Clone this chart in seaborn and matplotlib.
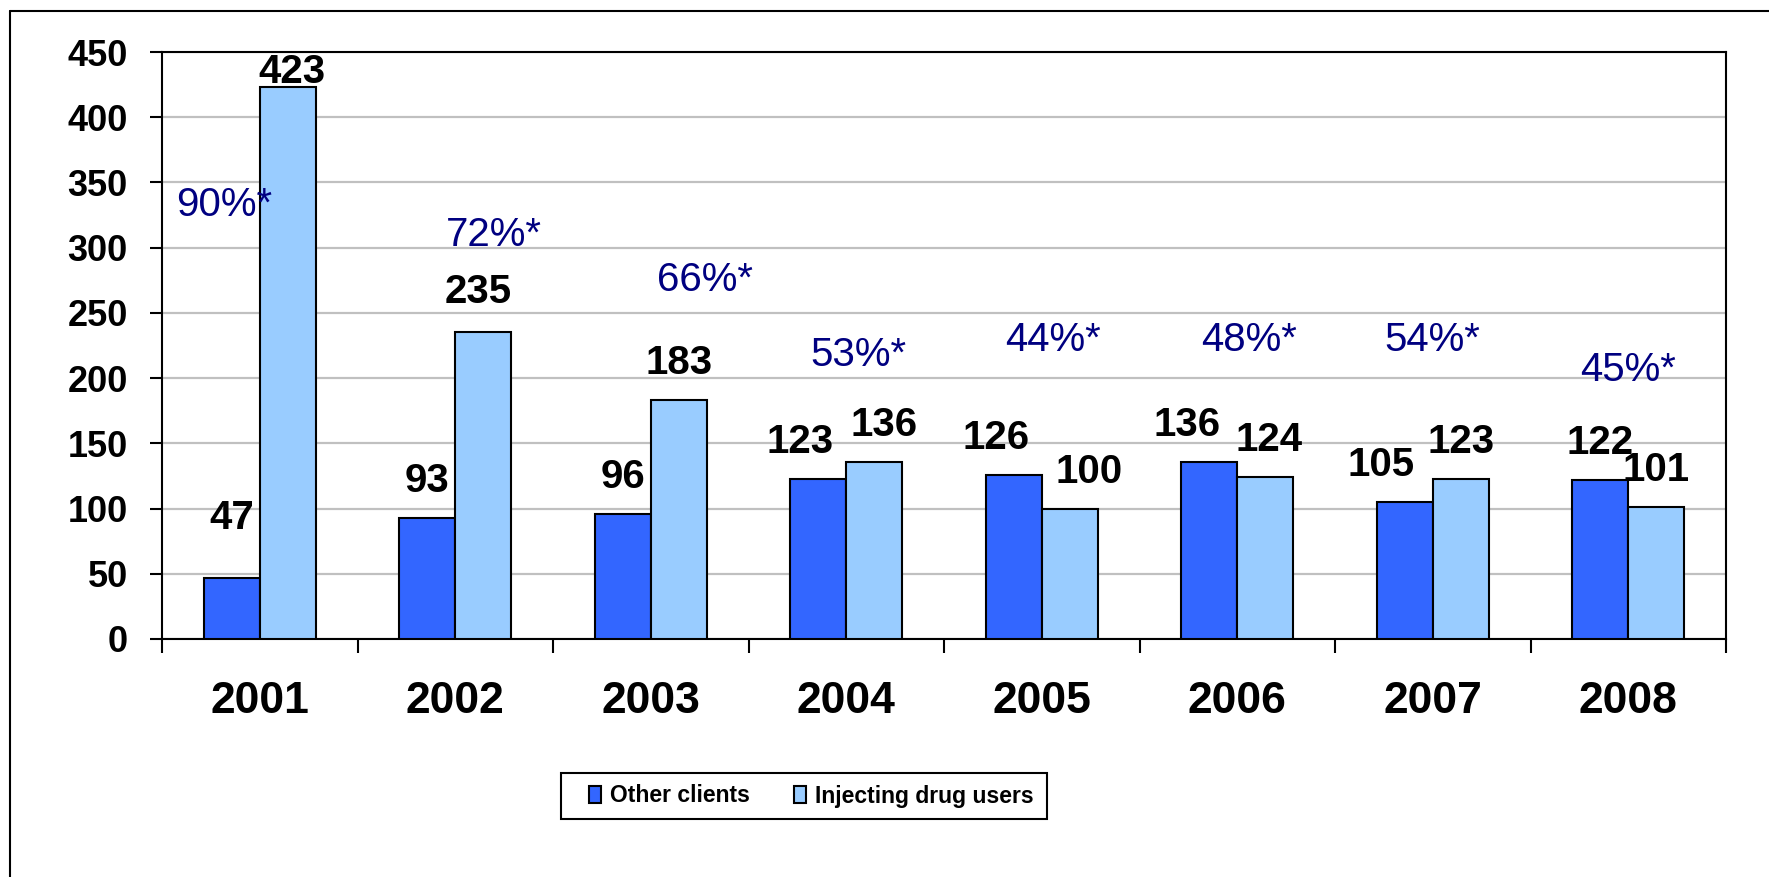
import matplotlib
matplotlib.use("Agg")
import numpy as np
import pandas as pd
from matplotlib import pyplot as plt
from matplotlib.lines import Line2D
from matplotlib.patches import Rectangle
import seaborn as sns

years = ["2001", "2002", "2003", "2004", "2005", "2006", "2007", "2008"]
other_clients = [47, 93, 96, 123, 126, 136, 105, 122]
injecting_users = [423, 235, 183, 136, 100, 124, 123, 101]
idu_share = ["90%*", "72%*", "66%*", "53%*", "44%*", "48%*", "54%*", "45%*"]
series_names = ["Other clients", "Injecting drug users"]
y_ticks = list(range(0, 451, 50))

# layout only: where the share labels sit (data coords) and value-label nudges in px
share_pos = [(-0.18, 333), (1.2, 310), (2.28, 275), (3.06, 218),
             (4.06, 229), (5.06, 229), (6.0, 229), (7.0, 206)]
other_dx = [0, 0, 0, -18, -18, -22, -24, 0]
idu_dx = [4, -5, 0, 10, 19, 4, 0, 0]
other_gap = [49, 26, 26, 26, 26, 26, 26, 26]
idu_gap = [4, 29, 26, 26, 26, 26, 26, 26]

df = pd.DataFrame({
    "year": years * 2,
    "count": other_clients + injecting_users,
    "group": [series_names[0]] * len(years) + [series_names[1]] * len(years),
})

sns.set_style("white")
plt.rcParams["font.family"] = ["Liberation Sans", "DejaVu Sans"]
plt.rcParams["text.color"] = "black"
plt.rcParams["xtick.color"] = "black"
plt.rcParams["ytick.color"] = "black"
plt.rcParams["axes.labelcolor"] = "black"

W, H = 1769, 877
fig = plt.figure(figsize=(W / 100, H / 100), dpi=100)
ax = fig.add_axes([162 / W, 1 - 639 / H, (1726 - 162) / W, (639 - 52) / H])

sns.barplot(data=df, x="year", y="count", hue="group", order=years,
            hue_order=series_names, palette=["#3366FF", "#99CCFF"],
            saturation=1, width=0.573, gap=0, errorbar=None,
            edgecolor="black", linewidth=1.5, ax=ax, zorder=3)

ax.set_xlim(-0.5, 7.5)
ax.set_ylim(0, 450)
ax.set_xlabel("")
ax.set_ylabel("")
ax.set_yticks(y_ticks)
ax.set_axisbelow(True)
ax.yaxis.grid(True, color="#C0C0C0", lw=1.6)
ax.xaxis.grid(False)
for s in ax.spines.values():
    s.set_visible(True)
    s.set_color("black")
    s.set_linewidth(1.5)

ax.tick_params(axis="y", direction="out", length=8.6, width=1.5, pad=16,
               labelsize=26, left=True)
ax.tick_params(axis="x", which="major", length=0, pad=30, labelsize=32)
ax.set_xticks(np.arange(-0.5, 8, 1), minor=True)
ax.tick_params(axis="x", which="minor", direction="out", length=10, width=1.5,
               bottom=True)
for lab in ax.get_xticklabels() + ax.get_yticklabels():
    lab.set_fontweight("bold")

# value labels on top of the bars
for cont, vals, dxs, gaps in zip(ax.containers, [other_clients, injecting_users],
                                 [other_dx, idu_dx], [other_gap, idu_gap]):
    for bar, v, dx, g in zip(cont, vals, dxs, gaps):
        ax.annotate(str(v), xy=(bar.get_x() + bar.get_width() / 2, bar.get_height()),
                    xytext=(dx * 0.72, g * 0.72), textcoords="offset points",
                    ha="center", va="baseline", fontsize=29, fontweight="bold",
                    zorder=5)

# share of injecting drug users
for txt, (x, y) in zip(idu_share, share_pos):
    ax.text(x, y, txt, ha="center", va="center", fontsize=29, color="#000080",
            zorder=6)

# legend: entries without frame, box drawn separately
handles, labels = ax.get_legend_handles_labels()
leg = ax.legend(handles, labels, loc="center left", ncol=2,
                bbox_to_anchor=(589 / W, 1 - 796 / H), bbox_transform=fig.transFigure,
                frameon=False, borderpad=0, borderaxespad=0,
                handlelength=0.52, handleheight=0.79, handletextpad=0.39,
                columnspacing=1.95,
                prop={"weight": "bold", "size": 16.5})
for h in leg.legend_handles:
    h.set_edgecolor("black")
    h.set_linewidth(1.5)
fig.add_artist(Rectangle((561 / W, 1 - 819 / H), (1047 - 561) / W, 46 / H,
                         transform=fig.transFigure, fill=False,
                         edgecolor="black", lw=1.5))

# outer chart frame (cropped at right and bottom)
fig.add_artist(Line2D([10 / W, 10 / W], [0, 1 - 11 / H], transform=fig.transFigure,
                      color="black", lw=1.5))
fig.add_artist(Line2D([10 / W, 1], [1 - 11 / H, 1 - 11 / H], transform=fig.transFigure,
                      color="black", lw=1.5))

fig.savefig("out.png", dpi=100)
